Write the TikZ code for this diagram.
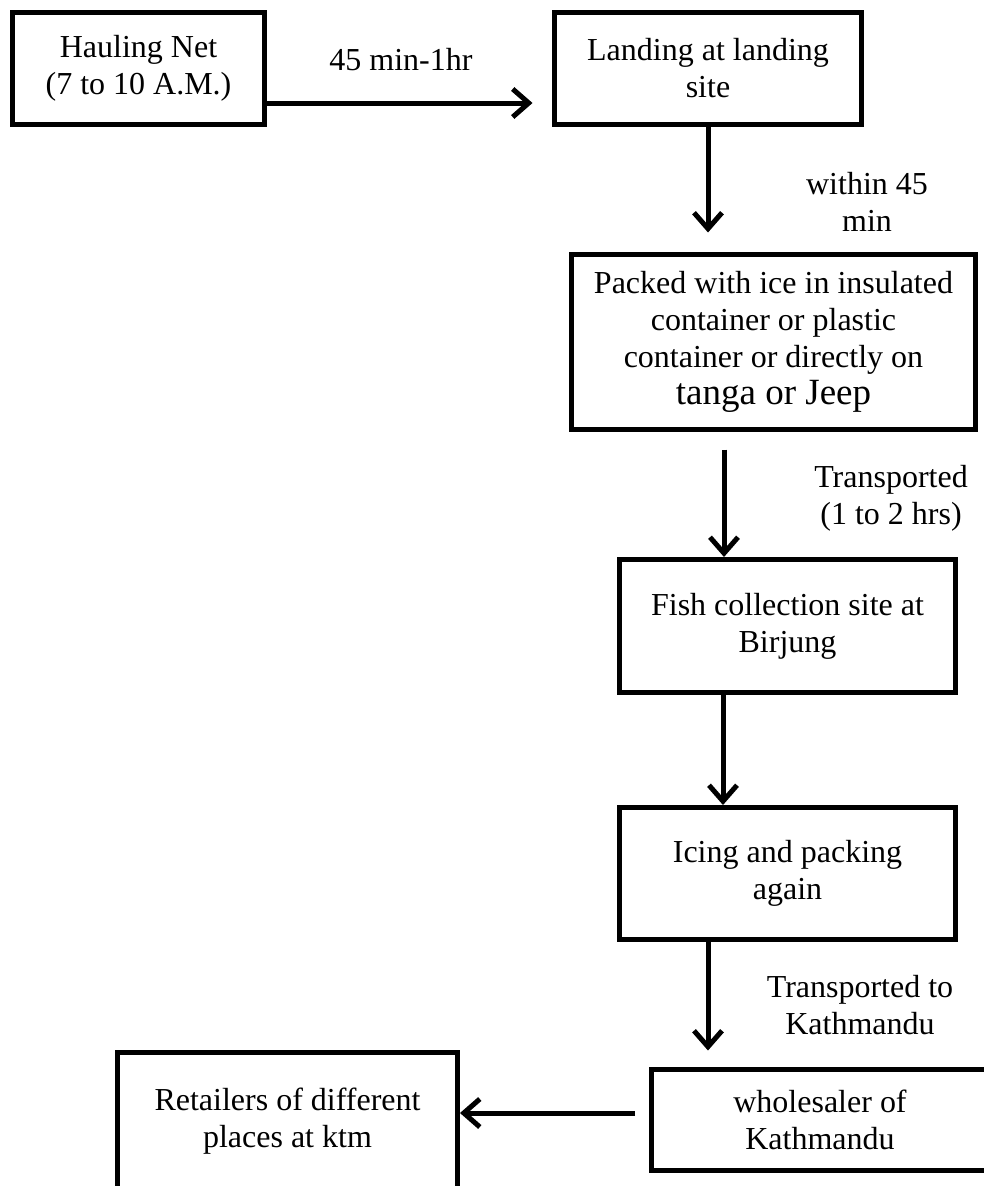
\documentclass[tikz,border=0pt]{standalone}
\usepackage{fontspec}
\setmainfont{Liberation Serif}
\usetikzlibrary{arrows.meta,positioning}
\tikzset{
  stepbox/.style={rectangle,draw=black,line width=5pt,align=center,font=\fontsize{32}{37}\selectfont,inner sep=4pt},
  note/.style={align=center,font=\fontsize{32}{37}\selectfont,inner sep=0pt},
  flow/.style={-{Straight Barb[length=16pt,width=28pt]},line width=5pt,draw=black}
}

\begin{document}
\begin{tikzpicture}[x=1pt,y=-1pt]
\useasboundingbox (0,0) rectangle (984,1186);
\clip (0,0) rectangle (984,1186);
\node[stepbox,minimum width=252pt,minimum height=112pt] (haul) at (138.5,68.5) {Hauling Net\\(7 to 10 A.M.)};
\node[stepbox,minimum width=307pt,minimum height=112pt] (land) at (708,68.5) {Landing at landing\\site};
\node[stepbox,minimum width=404pt,minimum height=175pt] (pack) at (773.5,342) {Packed with ice in insulated\\container or plastic\\container or directly on\\{\fontsize{37}{40}\selectfont tanga or Jeep}};
\node[stepbox,minimum width=336pt,minimum height=133pt] (fish) at (787.5,626) {Fish collection site at\\Birjung};
\node[stepbox,minimum width=336pt,minimum height=132pt] (icing) at (787.5,873.5) {Icing and packing\\again};
\node[stepbox,minimum width=338pt,minimum height=101pt] (whole) at (820,1120) {wholesaler of\\Kathmandu};
\node[stepbox,minimum width=340pt,minimum height=137pt] (retail) at (287.5,1121) {Retailers of different\\places at ktm};
\node[note] (t1) at (401,60) {45 min-1hr};
\node[note] (t2) at (867,202) {within 45\\min};
\node[note] (t3) at (891,498) {Transported\\(1 to 2 hrs)};
\node[note] (t4) at (860,1005) {Transported to\\Kathmandu};
\draw[flow] ([yshift=-34.5pt]haul.east) -- ([yshift=-34.5pt,xshift=-19.5pt]land.west);
\draw[flow] (land.south) -- ([yshift=19.5pt]land.south |- pack.north);
\draw[flow] ([xshift=-49.5pt,yshift=-17.5pt]pack.south) -- ([xshift=-49.5pt]pack.south |- fish.north);
\draw[flow] ([xshift=-64.5pt]fish.south) -- ([xshift=-64.5pt]icing.north);
\draw[flow] ([xshift=-79.5pt]icing.south) -- ([xshift=-79.5pt,yshift=16.5pt]icing.south |- whole.north);
\draw[flow] ([xshift=-13.5pt,yshift=7pt]whole.west) -- ([yshift=7pt]whole.west -| retail.east);
\end{tikzpicture}
\end{document}
